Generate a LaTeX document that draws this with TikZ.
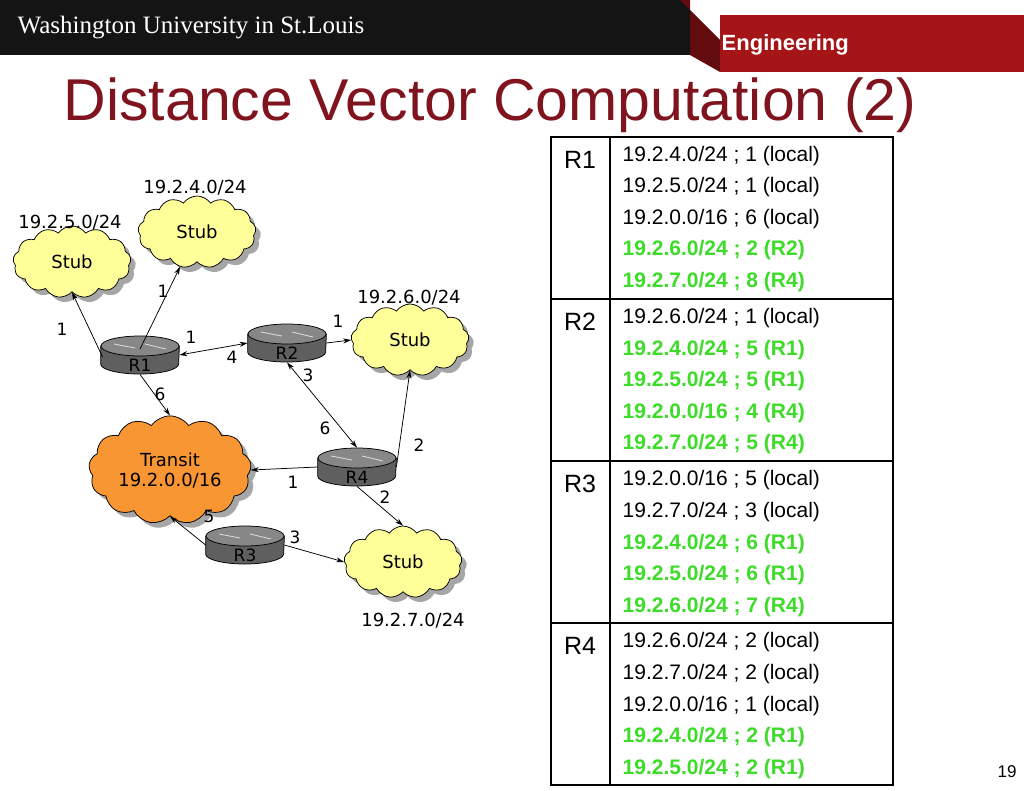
\documentclass[tikz,border=0pt]{standalone}
\usepackage{fontspec}
\setmainfont{Liberation Sans}
\newfontfamily\diafont{DejaVu Sans}
\newfontfamily\logofont{Liberation Serif}
\usetikzlibrary{shapes.symbols,arrows.meta,shadows}
\definecolor{wured}{RGB}{165,20,23}
\definecolor{titlered}{RGB}{128,20,30}
\definecolor{stubyel}{RGB}{255,255,153}
\definecolor{transor}{RGB}{247,150,50}
\definecolor{rtgray}{RGB}{95,95,95}
\definecolor{green}{RGB}{60,220,40}
\tikzset{every picture/.style={line width=0.75pt}}
\tikzset{
  stub/.style={cloud, cloud puffs=13, cloud puff arc=110, aspect=1.7, draw, fill=stubyel,
    minimum width=118, minimum height=72, font=\diafont\fontsize{18}{20}\selectfont, align=center,
    drop shadow={shadow xshift=5pt, shadow yshift=-5pt, fill=gray!70, opacity=1}},
  rtbox/.style={rectangle, minimum width=78, minimum height=38, inner sep=0pt},
  link/.style={-{Stealth[length=8pt,width=5pt]}},
  blink/.style={{Stealth[length=8pt,width=5pt]}-{Stealth[length=8pt,width=5pt]}},
  wt/.style={font=\diafont\fontsize{17}{20}\selectfont},
  net/.style={font=\diafont\fontsize{18}{20}\selectfont},
  entry/.style={anchor=west, font=\fontsize{21}{23}\selectfont},
  hot/.style={entry, text=green, font=\bfseries\fontsize{21}{23}\selectfont},
}
% router: name, position, label
\newcommand\rtr[3]{%
  \node[rtbox] (#1) at (#2) {};
  \filldraw[fill=rtgray] ([yshift=9pt]#1.west) -- ([yshift=-9pt]#1.west)
    arc[start angle=180, end angle=0, x radius=39, y radius=10]
    -- ([yshift=9pt]#1.east) -- cycle;
  \filldraw[fill=rtgray!75] ([yshift=9pt]#1.center) ellipse[x radius=39, y radius=10];
  \draw[gray!25, line width=0.8pt] ([xshift=-26pt,yshift=11pt]#1.center) -- ([xshift=-5pt,yshift=7pt]#1.center)
    ([xshift=26pt,yshift=6pt]#1.center) -- ([xshift=5pt,yshift=11pt]#1.center);
  \node[wt, anchor=base] at ([yshift=3pt]#1.south) {#3};
}
\begin{document}
\begin{tikzpicture}[x=1pt,y=-1pt]
\useasboundingbox (0,0) rectangle (1024,791);
\fill[white] (0,0) rectangle (1024,791);

% header
\fill[black!92] (0,0) rectangle (690,55);
\fill[wured!60!black] (680,0) -- (720,40) -- (720,72) -- (690,55) -- (690,0) -- cycle;
\fill[wured] (720,15) rectangle (1024,72);
\node[text=white, anchor=west, font=\logofont\fontsize{25}{25}\selectfont] (logo) at (14,28) {Washington University in St.Louis};
\node[text=white, anchor=west, font=\bfseries\fontsize{22}{22}\selectfont] (eng) at (718,45) {Engineering};
\node[text=titlered, anchor=base west, font=\fontsize{59}{59}\selectfont] (title) at (60,121) {Distance Vector Computation (2)};

% table
\draw[line width=2pt] (551,137) rectangle (893,785);
\foreach \y in {299,461,623} \draw[line width=1.2pt] (551,\y) -- (893,\y);
\draw[line width=1.2pt] (610,137) -- (610,785);
\foreach \r/\y in {R1/160,R2/322,R3/484,R4/646}
  \node[font=\fontsize{25}{25}\selectfont] at (580,\y) {\r};

\node[entry] at (619,156) {19.2.4.0/24 ; 1 (local)};
\node[entry] at (619,187) {19.2.5.0/24 ; 1 (local)};
\node[entry] at (619,219) {19.2.0.0/16 ; 6 (local)};
\node[hot] at (619,250) {19.2.6.0/24 ; 2 (R2)};
\node[hot] at (619,282) {19.2.7.0/24 ; 8 (R4)};
\node[entry] at (619,318) {19.2.6.0/24 ; 1 (local)};
\node[hot] at (619,350) {19.2.4.0/24 ; 5 (R1)};
\node[hot] at (619,381) {19.2.5.0/24 ; 5 (R1)};
\node[hot] at (619,413) {19.2.0.0/16 ; 4 (R4)};
\node[hot] at (619,444) {19.2.7.0/24 ; 5 (R4)};
\node[entry] at (619,480) {19.2.0.0/16 ; 5 (local)};
\node[entry] at (619,512) {19.2.7.0/24 ; 3 (local)};
\node[hot] at (619,544) {19.2.4.0/24 ; 6 (R1)};
\node[hot] at (619,575) {19.2.5.0/24 ; 6 (R1)};
\node[hot] at (619,607) {19.2.6.0/24 ; 7 (R4)};
\node[entry] at (619,642) {19.2.6.0/24 ; 2 (local)};
\node[entry] at (619,674) {19.2.7.0/24 ; 2 (local)};
\node[entry] at (619,706) {19.2.0.0/16 ; 1 (local)};
\node[hot] at (619,737) {19.2.4.0/24 ; 2 (R1)};
\node[hot] at (619,769) {19.2.5.0/24 ; 2 (R1)};

% clouds
\node[stub] (s5) at (72,262) {Stub};
\node[stub] (s4) at (197,232) {Stub};
\node[stub] (s6) at (410,340) {Stub};
\node[stub] (s7) at (403,562) {Stub};
\node[stub, fill=transor, minimum width=150] (tr) at (170,470) {Transit\\19.2.0.0/16};

% routers
\rtr{r1}{140,355}{R1}
\rtr{r2}{287,343}{R2}
\rtr{r4}{357,467}{R4}
\rtr{r3}{245,545}{R3}

% links
\draw[link] ([xshift=2pt,yshift=-2pt]r1.west) -- (s5.south);
\draw[link] ([yshift=6pt]r1.center) -- (s4);
\draw[blink] (r1.east) -- (r2.west);
\draw[link] (r2.east) -- (s6.west);
\draw[link] (r1.south) -- (tr.north);
\draw[blink] (r2.south) -- (r4.north);
\draw[link] (r4.east) -- (s6.south);
\draw[link] (r4.west) -- (tr.east);
\draw[link] (r4.south) -- (s7.north);
\draw[link] (r3.west) -- (tr.south);
\draw[link] (r3.east) -- (s7.west);

% labels
\node[net] at (195,188) {19.2.4.0/24};
\node[net] at (70,223) {19.2.5.0/24};
\node[net] at (409,298) {19.2.6.0/24};
\node[net] at (413,621) {19.2.7.0/24};
\node[wt] at (163,291) {1};
\node[wt] at (62,329) {1};
\node[wt] at (191,337) {1};
\node[wt] at (232,357) {4};
\node[wt] at (338,321) {1};
\node[wt] at (308,375) {3};
\node[wt] at (160,394) {6};
\node[wt] at (325,428) {6};
\node[wt] at (419,445) {2};
\node[wt] at (293,482) {1};
\node[wt] at (385,497) {2};
\node[wt] at (209,516) {5};
\node[wt] at (295,537) {3};

\node[font=\fontsize{17}{17}\selectfont] (pg) at (1007,772) {19};
\end{tikzpicture}
\end{document}
